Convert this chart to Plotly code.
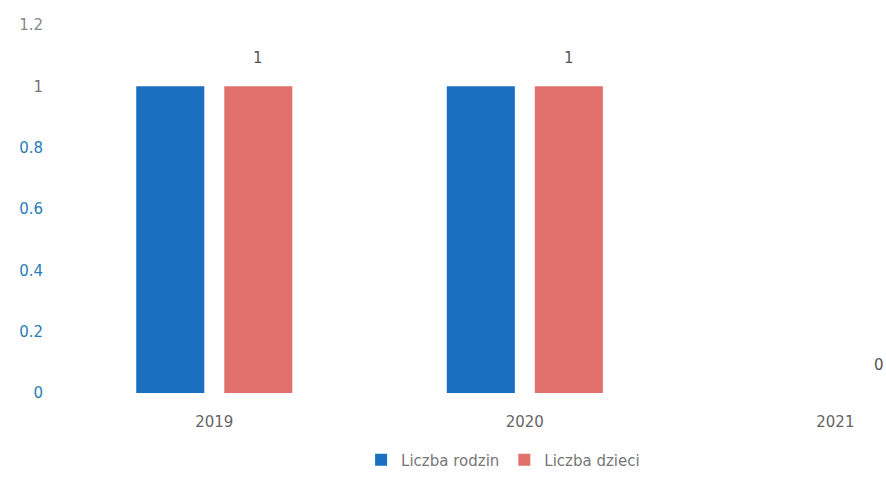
import plotly.graph_objects as go

years = ["2019", "2020", "2021"]
rodzin = [1, 1, 0]
dzieci = [1, 1, 0]
label_values = [1, 1, 0]
y_tick_vals = [0, 0.2, 0.4, 0.6, 0.8, 1, 1.2]
y_tick_text = ["0", "0.2", "0.4", "0.6", "0.8", "1", "1.2"]
y_tick_colors = ["#2a7db8", "#2a7db8", "#2a7db8", "#2a7db8", "#2a7db8", "#777777", "#888888"]

BLUE = "#1a6fc1"
RED = "#e2716e"
FONT = "DejaVu Sans, Liberation Sans, Arial, sans-serif"

fig = go.Figure()
fig.add_trace(go.Bar(x=years, y=rodzin, name="Liczba rodzin", marker_color=BLUE,
                     marker_line_width=0))
fig.add_trace(go.Bar(x=years, y=dzieci, name="Liczba dzieci", marker_color=RED,
                     marker_line_width=0))

annotations = []
for i, v in enumerate(label_values):
    annotations.append(dict(
        x=i, y=v, xref="x", yref="y", text=str(v), showarrow=False,
        xshift=44, yshift=28, font=dict(family=FONT, size=15, color="#555555"),
    ))

fig.update_layout(
    width=886, height=486,
    paper_bgcolor="white", plot_bgcolor="white",
    margin=dict(l=59, r=0, t=25, b=93),
    barmode="group", bargap=0.433, bargroupgap=0.227,
    font=dict(family=FONT, size=14, color="#666666"),
    showlegend=True,
    legend=dict(orientation="h", x=0.537, xanchor="center", y=-0.182, yanchor="middle",
                font=dict(size=15, color="#777777"), traceorder="normal", itemwidth=30),
    annotations=annotations,
    xaxis=dict(type="category", range=[-0.5, 2.163], showgrid=False, showline=False,
               zeroline=False, ticks="", ticklabelstandoff=18,
               tickfont=dict(size=15, color="#666666")),
    yaxis=dict(range=[0, 1.2], tickvals=y_tick_vals,
               ticktext=[f"<span style='color:{c}'>{t}</span>" for t, c in zip(y_tick_text, y_tick_colors)],
               showgrid=False, showline=False, zeroline=False, ticks="",
               ticklabelstandoff=15, tickfont=dict(size=15)),
)

fig.write_html("out.html", config={"displayModeBar": False},
               post_script="document.body.style.margin='0';document.body.style.overflow='hidden';")
